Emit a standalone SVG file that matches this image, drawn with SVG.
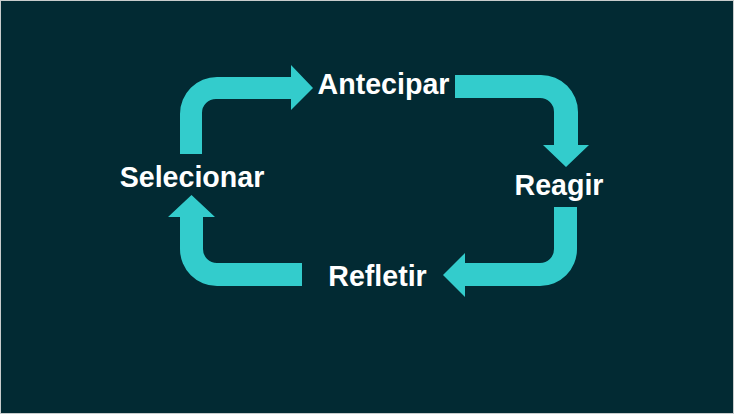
<svg xmlns="http://www.w3.org/2000/svg" width="734" height="414" viewBox="0 0 734 414">
<style>
.bg{fill:#022a33;stroke:#c8cccc;stroke-width:1}
.arrow{fill:#33cccc}
.label{font-family:"Liberation Sans",Arial,sans-serif;font-weight:bold;font-size:28.6px;fill:#ffffff;text-anchor:middle}
</style>
<rect class="bg" x="0.5" y="0.5" width="733" height="413"/>
<g id="connectors">
<path id="c-sel-ant" class="arrow" d="M180,154 L180,114 A37,37 0 0 1 217,77 L291,77 L291,65 L313,88 L291,110 L291,99 L216,99 A14,14 0 0 0 202,113 L202,154 Z"/>
<path id="c-ant-rea" class="arrow" d="M455,75 L541,75 A37,37 0 0 1 578,112 L578,145 L589,145 L566,167 L543,145 L554,145 L554,112 A14,14 0 0 0 540,98 L455,98 Z"/>
<path id="c-rea-ref" class="arrow" d="M554,207 L577,207 L577,249 A37,37 0 0 1 540,286 L465,286 L465,297 L443,275 L465,253 L465,263 L540,263 A14,14 0 0 0 554,249 Z"/>
<path id="c-ref-sel" class="arrow" d="M302,286 L217,286 A37,37 0 0 1 180,249 L180,217 L168,217 L191.5,195 L215,217 L203,217 L203,249 A14,14 0 0 0 217,263 L302,263 Z"/>
</g>
<g id="antecipar"><text class="label" x="383.5" y="94">Antecipar</text></g>
<g id="reagir"><text class="label" x="559" y="195">Reagir</text></g>
<g id="refletir"><text class="label" x="377.5" y="286">Refletir</text></g>
<g id="selecionar"><text class="label" x="192" y="187">Selecionar</text></g>
</svg>
